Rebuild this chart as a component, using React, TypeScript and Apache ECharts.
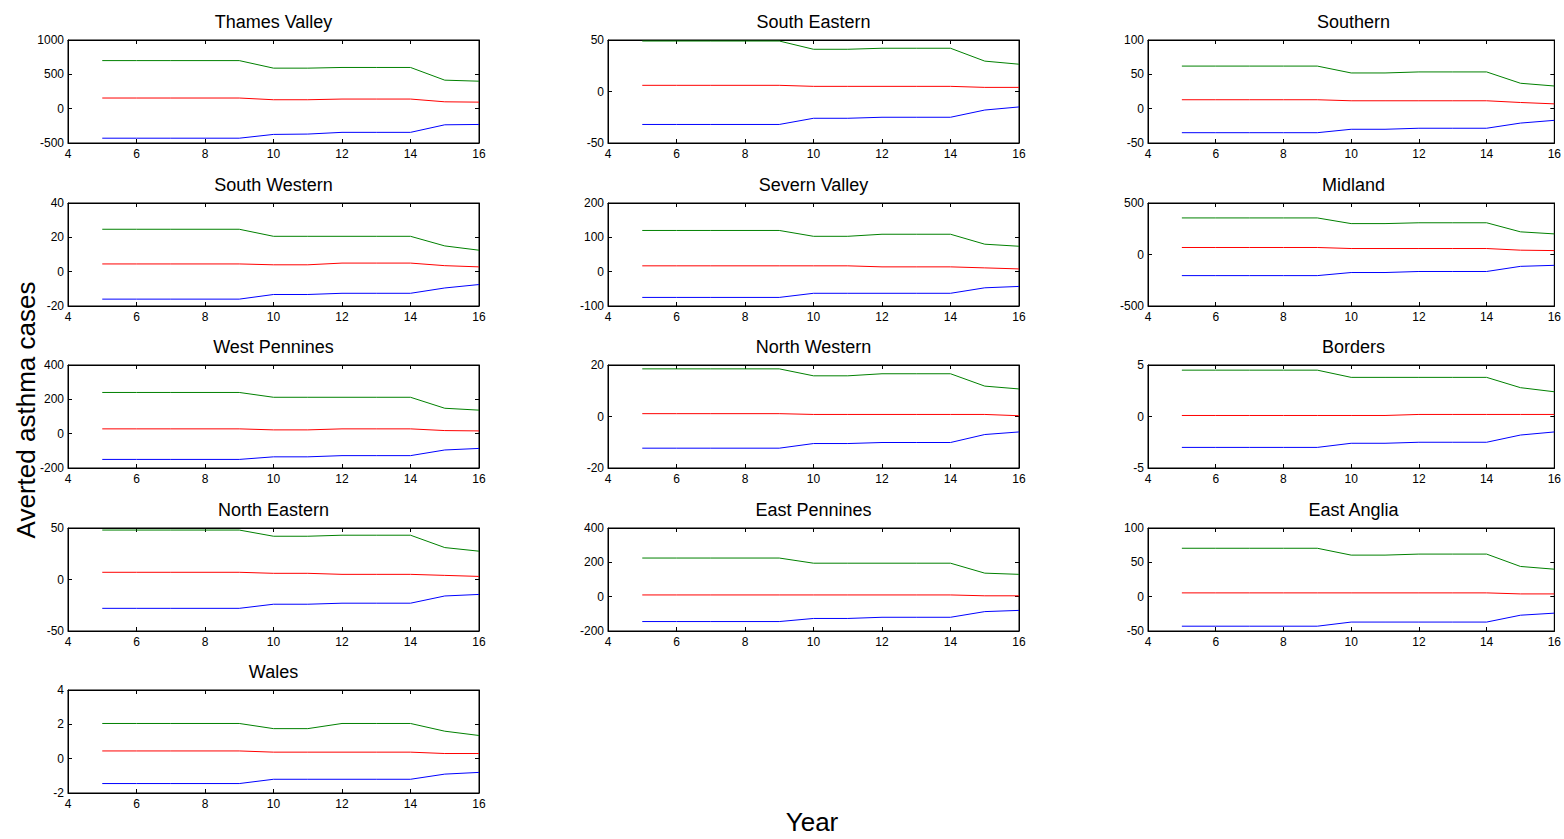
import React, { useEffect, useRef } from "react";
import * as echarts from "echarts";

const years = [5, 6, 7, 8, 9, 10, 11, 12, 13, 14, 15, 16];

const regions = [
  "Thames Valley", "South Eastern", "Southern",
  "South Western", "Severn Valley", "Midland",
  "West Pennines", "North Western", "Borders",
  "North Eastern", "East Pennines", "East Anglia",
  "Wales",
];

// upper bound (green)
const upper = [
  [700, 700, 700, 700, 700, 590, 590, 600, 600, 600, 415, 400],
  [49, 49, 49, 49, 49, 41, 41, 42, 42, 42, 29.5, 26.5],
  [62, 62, 62, 62, 62, 52, 52, 53.5, 53.5, 53.5, 37, 33],
  [24.7, 24.7, 24.7, 24.7, 24.7, 20.6, 20.6, 20.6, 20.6, 20.6, 15, 12.5],
  [120, 120, 120, 120, 120, 103, 103, 109, 109, 109, 80, 74],
  [355, 355, 355, 355, 355, 300, 300, 308, 308, 308, 220, 200],
  [240, 240, 240, 240, 240, 212, 212, 212, 212, 212, 148, 137],
  [18.5, 18.5, 18.5, 18.5, 18.5, 15.8, 15.8, 16.6, 16.6, 16.6, 11.8, 10.7],
  [4.5, 4.5, 4.5, 4.5, 4.5, 3.8, 3.8, 3.8, 3.8, 3.8, 2.8, 2.4],
  [48, 48, 48, 48, 48, 42, 42, 43, 43, 43, 31, 27.5],
  [225, 225, 225, 225, 225, 195, 195, 195, 195, 195, 137, 130],
  [70.5, 70.5, 70.5, 70.5, 70.5, 60.5, 60.5, 62, 62, 62, 44, 40],
  [2.05, 2.05, 2.05, 2.05, 2.05, 1.75, 1.75, 2.05, 2.05, 2.05, 1.6, 1.35],
];

// central estimate (red)
const central = [
  [155, 155, 155, 155, 155, 130, 130, 140, 140, 140, 100, 95],
  [6, 6, 6, 6, 6, 5, 5, 5, 5, 5, 4, 4],
  [13, 13, 13, 13, 13, 11.5, 11.5, 11.5, 11.5, 11.5, 9, 7],
  [4.5, 4.5, 4.5, 4.5, 4.5, 4, 4, 5, 5, 5, 3.5, 2.8],
  [17, 17, 17, 17, 17, 17, 17, 14, 14, 14, 11, 8],
  [68, 68, 68, 68, 68, 58, 58, 58, 58, 58, 42, 38],
  [28, 28, 28, 28, 28, 22, 22, 28, 28, 28, 18, 16],
  [1.1, 1.1, 1.1, 1.1, 1.1, 0.8, 0.8, 0.8, 0.8, 0.8, 0.8, 0.3],
  [0.1, 0.1, 0.1, 0.1, 0.1, 0.1, 0.1, 0.2, 0.2, 0.2, 0.2, 0.2],
  [7, 7, 7, 7, 7, 6, 6, 5, 5, 5, 4, 3],
  [10, 10, 10, 10, 10, 10, 10, 10, 10, 10, 5, 5],
  [5.5, 5.5, 5.5, 5.5, 5.5, 5.5, 5.5, 5.5, 5.5, 5.5, 4, 4],
  [0.45, 0.45, 0.45, 0.45, 0.45, 0.38, 0.38, 0.38, 0.38, 0.38, 0.3, 0.3],
];

// lower bound (blue)
const lower = [
  [-430, -430, -430, -430, -430, -375, -370, -345, -345, -345, -235, -230],
  [-32, -32, -32, -32, -32, -26, -26, -25, -25, -25, -18, -15],
  [-35, -35, -35, -35, -35, -30, -30, -28.5, -28.5, -28.5, -21, -17],
  [-16, -16, -16, -16, -16, -13.3, -13.3, -12.6, -12.6, -12.6, -9.5, -7.5],
  [-75, -75, -75, -75, -75, -63, -63, -63, -63, -63, -47, -43],
  [-205, -205, -205, -205, -205, -175, -175, -165, -165, -165, -115, -105],
  [-150, -150, -150, -150, -150, -135, -135, -128, -128, -128, -95, -86],
  [-12.3, -12.3, -12.3, -12.3, -12.3, -10.5, -10.5, -10.1, -10.1, -10.1, -7, -6],
  [-3, -3, -3, -3, -3, -2.6, -2.6, -2.5, -2.5, -2.5, -1.8, -1.5],
  [-28, -28, -28, -28, -28, -24, -24, -23, -23, -23, -16, -14.5],
  [-145, -145, -145, -145, -145, -127, -127, -120, -120, -120, -87, -80],
  [-43, -43, -43, -43, -43, -37, -37, -37, -37, -37, -27, -24],
  [-1.45, -1.45, -1.45, -1.45, -1.45, -1.2, -1.2, -1.2, -1.2, -1.2, -0.9, -0.8],
];

const yMin = [-500, -50, -50, -20, -100, -500, -200, -20, -5, -50, -200, -50, -2];
const yMax = [1000, 50, 100, 40, 200, 500, 400, 20, 5, 50, 400, 100, 4];
const yStep = [500, 50, 50, 20, 100, 500, 200, 20, 5, 50, 200, 50, 2];

const xMin = 4;
const xMax = 16;
const xStep = 2;

const FONT = "'Liberation Sans', Arial, Helvetica, sans-serif";

export default function App() {
  const ref = useRef<HTMLDivElement>(null);

  useEffect(() => {
    if (!ref.current) return;
    const chart = echarts.init(ref.current, undefined, { renderer: "svg" });

    const colLeft = [68, 608, 1148];
    const rowTop = [40, 203, 365, 528, 690];
    const W = 411;
    const H = 103;

    const grids: any[] = [];
    const xAxes: any[] = [];
    const yAxes: any[] = [];
    const series: any[] = [];
    const graphics: any[] = [];

    const tickCommon = {
      axisLine: { show: true, onZero: false, lineStyle: { color: "#000", width: 1 } },
      axisTick: { show: true, inside: true, length: 4, lineStyle: { color: "#000", width: 1 } },
      splitLine: { show: false },
    };
    const fmt = (v: number) => String(v);

    regions.forEach((name, i) => {
      const col = i % 3;
      const row = Math.floor(i / 3);
      const left = colLeft[col];
      const top = rowTop[row];
      grids.push({
        left, top, width: W, height: H,
        show: true, borderColor: "#000", borderWidth: 1, backgroundColor: "#fff",
        containLabel: false,
      });
      const xb = xAxes.length;
      xAxes.push({
        type: "value", gridIndex: i, min: xMin, max: xMax, interval: xStep, position: "bottom",
        ...tickCommon,
        axisLabel: { color: "#000", fontSize: 12, fontFamily: FONT, margin: 5, formatter: fmt },
      });
      xAxes.push({
        type: "value", gridIndex: i, min: xMin, max: xMax, interval: xStep, position: "top",
        ...tickCommon,
        axisLabel: { show: false },
      });
      const yb = yAxes.length;
      yAxes.push({
        type: "value", gridIndex: i, min: yMin[i], max: yMax[i], interval: yStep[i], position: "left",
        ...tickCommon,
        axisLabel: { color: "#000", fontSize: 12, fontFamily: FONT, margin: 4, formatter: fmt },
      });
      yAxes.push({
        type: "value", gridIndex: i, min: yMin[i], max: yMax[i], interval: yStep[i], position: "right",
        ...tickCommon,
        axisLabel: { show: false },
      });

      const mk = (vals: number[], color: string, sname: string) => ({
        type: "line",
        name: sname,
        xAxisIndex: xb,
        yAxisIndex: yb,
        data: years.map((y, k) => [y, vals[k]]),
        symbol: "none",
        lineStyle: { color, width: 1 },
        itemStyle: { color },
        silent: true,
      });
      series.push(mk(upper[i], "#008000", name + " upper"));
      series.push(mk(central[i], "#ff0000", name + " central"));
      series.push(mk(lower[i], "#0000ff", name + " lower"));

      graphics.push({
        type: "text",
        x: left + W / 2,
        y: top - 18,
        style: {
          text: name,
          fill: "#000",
          font: `18px ${FONT}`,
          textAlign: "center",
          textVerticalAlign: "middle",
        },
      });
    });

    graphics.push({
      type: "text",
      x: 26,
      y: 410,
      rotation: Math.PI / 2,
      style: {
        text: "Averted asthma cases",
        fill: "#000",
        font: `26px ${FONT}`,
        textAlign: "center",
        textVerticalAlign: "middle",
      },
    });
    graphics.push({
      type: "text",
      x: 812,
      y: 822,
      style: {
        text: "Year",
        fill: "#000",
        font: `26px ${FONT}`,
        textAlign: "center",
        textVerticalAlign: "middle",
      },
    });

    chart.setOption({
      animation: false,
      backgroundColor: "#fff",
      grid: grids,
      xAxis: xAxes,
      yAxis: yAxes,
      series,
      graphic: graphics,
    });

    return () => chart.dispose();
  }, []);

  return (
    <div
      ref={ref}
      style={{ position: "absolute", left: 0, top: 0, width: 1564, height: 839, background: "#fff" }}
    />
  );
}
